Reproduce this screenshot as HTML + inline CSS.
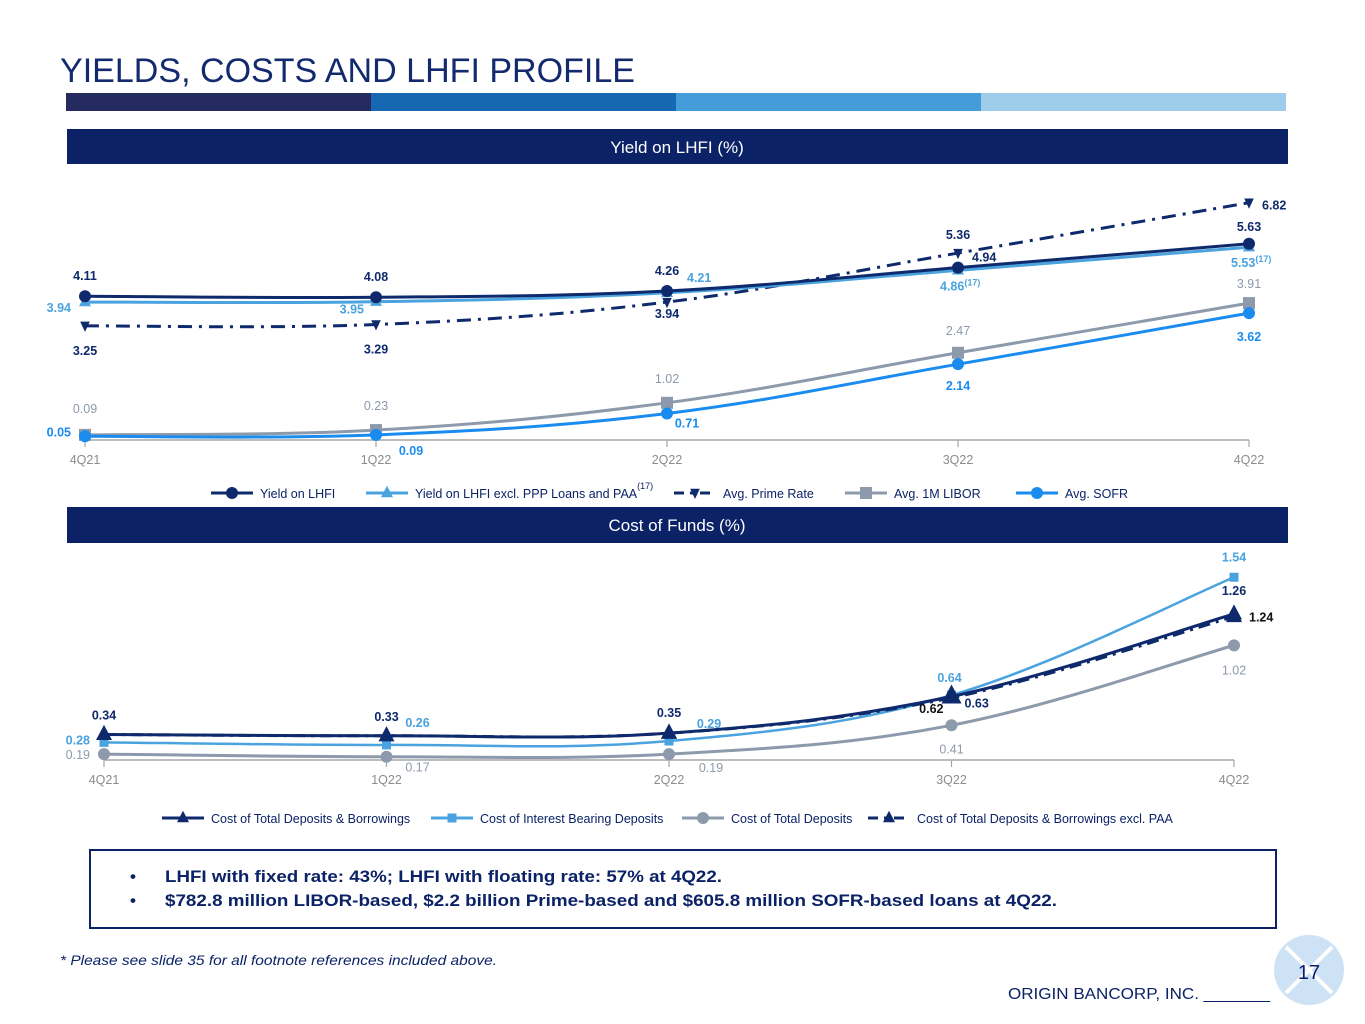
<!DOCTYPE html>
<html><head><meta charset="utf-8"><style>
body{margin:0;background:#fff;}
svg{display:block;font-family:"Liberation Sans",Arial,sans-serif;}
</style></head><body>
<svg id="s" width="1365" height="1024" viewBox="0 0 1365 1024">
<text x="60" y="82" font-size="34" fill="#142a6e" textLength="575" lengthAdjust="spacingAndGlyphs">YIELDS, COSTS AND LHFI PROFILE</text>
<rect x="66" y="93" width="305" height="18" fill="#262b5f"/>
<rect x="371" y="93" width="305" height="18" fill="#1668b2"/>
<rect x="676" y="93" width="305" height="18" fill="#449dd9"/>
<rect x="981" y="93" width="305" height="18" fill="#9ecdeb"/>
<rect x="67" y="129" width="1221" height="35" fill="#0b2266"/>
<text x="677" y="153" font-size="17" fill="#fff" text-anchor="middle">Yield on LHFI (%)</text>
<rect x="67" y="507" width="1221" height="36" fill="#0b2266"/>
<text x="677" y="531" font-size="17" fill="#fff" text-anchor="middle">Cost of Funds (%)</text>
<g id="top"></g>
<g id="bot"></g>
<rect x="90" y="850" width="1186" height="78" fill="none" stroke="#0b2266" stroke-width="2"/>
<text x="130" y="882" font-size="17" font-weight="bold" fill="#0b2266">•<tspan x="165" textLength="557" lengthAdjust="spacingAndGlyphs">LHFI with fixed rate: 43%; LHFI with floating rate: 57% at 4Q22.</tspan></text>
<text x="130" y="906" font-size="17" font-weight="bold" fill="#0b2266">•<tspan x="165" textLength="892" lengthAdjust="spacingAndGlyphs">$782.8 million LIBOR-based, $2.2 billion Prime-based and $605.8 million SOFR-based loans at 4Q22.</tspan></text>
<text x="60" y="965" font-size="14" font-style="italic" fill="#0b2266" textLength="437" lengthAdjust="spacingAndGlyphs">* Please see slide 35 for all footnote references included above.</text>
<text x="1008" y="999" font-size="16" fill="#0b2266" textLength="262" lengthAdjust="spacingAndGlyphs">ORIGIN BANCORP, INC. _______</text>
<g>
<circle cx="1309" cy="970" r="35" fill="#cde2f4"/>
<line x1="1286" y1="947" x2="1332" y2="993" stroke="#fff" stroke-width="4"/>
<line x1="1332" y1="947" x2="1286" y2="993" stroke="#fff" stroke-width="4"/>
<text x="1309" y="979" font-size="20" fill="#0b2266" text-anchor="middle">17</text>
</g>
</svg>
<script>
// ---- Yield chart data ----
const topCats = ["4Q21","1Q22","2Q22","3Q22","4Q22"];
const yieldLHFI = [4.11,4.08,4.26,4.94,5.63];
const yieldExcl = [3.94,3.95,4.21,4.86,5.53];
const primeRate = [3.25,3.29,3.94,5.36,6.82];
const libor = [0.09,0.23,1.02,2.47,3.91];
const sofr = [0.05,0.09,0.71,2.14,3.62];
// ---- Cost chart data ----
const botCats = ["4Q21","1Q22","2Q22","3Q22","4Q22"];
const costTotal = [0.34,0.33,0.35,0.63,1.26];
const costIB = [0.28,0.26,0.29,0.64,1.54];
const costDep = [0.19,0.17,0.19,0.41,1.02];
const costExcl = [0.34,0.33,0.35,0.62,1.24];

const NS="http://www.w3.org/2000/svg";
function mk(parent,tag,attrs){const e=document.createElementNS(NS,tag);for(const k in attrs)e.setAttribute(k,attrs[k]);parent.appendChild(e);return e;}
function curve(pts){let d="M"+pts[0][0]+","+pts[0][1];const t=0.18;
 for(let i=0;i<pts.length-1;i++){const p0=pts[i-1]||pts[i],p1=pts[i],p2=pts[i+1],p3=pts[i+2]||p2;
 const c1=[p1[0]+(p2[0]-p0[0])*t,p1[1]+(p2[1]-p0[1])*t],c2=[p2[0]-(p3[0]-p1[0])*t,p2[1]-(p3[1]-p1[1])*t];
 d+=" C"+c1+" "+c2+" "+p2;}return d;}
function marker(g,type,x,y,col,sz){
 if(type==="circle")return mk(g,"circle",{cx:x,cy:y,r:sz,fill:col});
 if(type==="square")return mk(g,"rect",{x:x-sz,y:y-sz,width:2*sz,height:2*sz,fill:col});
 if(type==="tri")return mk(g,"polygon",{points:`${x},${y-sz*1.2} ${x-sz},${y+sz*0.7} ${x+sz},${y+sz*0.7}`,fill:col});
 if(type==="dtri")return mk(g,"polygon",{points:`${x},${y+sz} ${x-sz*0.8},${y-sz*0.7} ${x+sz*0.8},${y-sz*0.7}`,fill:col});}

function drawChart(gid,cats,x0,x1,axisY,zeroY,scale,series,legendY,legendItems){
 const g=document.getElementById(gid);
 const X=i=>x0+(x1-x0)*i/(cats.length-1), Y=v=>zeroY-v*scale;
 const ax=mk(g,"line",{x1:x0,y1:axisY,x2:x1,y2:axisY,stroke:"#a6a6a6","stroke-width":1.5});
 
 
 cats.forEach((c,i)=>{
  const tk=mk(g,"line",{x1:X(i),y1:axisY,x2:X(i),y2:axisY+7,stroke:"#a6a6a6","stroke-width":1.2});
  
  
  const t=mk(g,"text",{x:X(i),y:axisY+24,"font-size":12.5,fill:"#8c8c8c","text-anchor":"middle"});t.textContent=c;
  
  
 });
 series.forEach(s=>{
  const sg=mk(g,"g",{});
  
  
  const pts=s.vals.map((v,i)=>[X(i),Y(v)]);
  const p=mk(sg,"path",{d:curve(pts),fill:"none",stroke:s.col,"stroke-width":s.w||3});
  if(s.dash)p.setAttribute("stroke-dasharray",s.dash);
  
  
  pts.forEach((q,i)=>{if(s.skip&&s.skip.includes(i))return;const m=marker(sg,s.mk,q[0],q[1],s.col,(s.big&&s.big[i])?s.big[i]:(s.sz||6));
   
   });
  s.vals.forEach((v,i)=>{const o=s.lab[i];if(!o)return;
   const t=mk(sg,"text",{x:X(i)+o[0],y:Y(v)+o[1],"font-size":12.5,"font-weight":s.bold?"bold":"normal",fill:s.lc||s.col,"text-anchor":o[2]||"middle"});
   t.textContent=v.toFixed(2);
   if(s.sup&&s.sup[i]){const ts=mk(t,"tspan",{"font-size":9,dy:-5});ts.textContent="(17)";}
   
   });
 });
 legendItems.forEach(L=>{
  const lg=mk(g,"g",{});
  
  
  const l=mk(lg,"line",{x1:L.x,y1:legendY,x2:L.x+42,y2:legendY,stroke:L.col,"stroke-width":3});
  if(L.dash)l.setAttribute("stroke-dasharray",L.dash);
  marker(lg,L.mk,L.x+21,legendY,L.col,L.sz||6);
  const t=mk(lg,"text",{x:L.x+49,y:legendY+5,"font-size":12.5,fill:"#0b2266"});t.textContent=L.text;
  if(L.sup){const ts=mk(t,"tspan",{"font-size":9,dy:-9});ts.textContent="(17)";}
 });
}
const NAVY="#0e2a6c",LB="#4aa3df",GR="#8d9aab",SB="#1a8cf0";
drawChart("top",topCats,85,1249,440,438,34.5,[
 {name:"avg-1m-libor",vals:libor,col:GR,mk:"square",lab:[[0,-22],[0,-20],[0,-20],[0,-18],[0,-15]]},
 {name:"avg-sofr",vals:sofr,col:SB,mk:"circle",bold:true,lab:[[-14,0,"end"],[35,20],[20,14],[0,26],[0,28]]},
 {name:"avg-prime-rate",vals:primeRate,col:NAVY,mk:"dtri",dash:"14,7,3,7",bold:true,lab:[[0,29],[0,29],[0,16],[0,-14],[13,7,"start"]]},
 {name:"yield-lhfi-excl-ppp-paa",vals:yieldExcl,col:LB,mk:"tri",bold:true,sup:[0,0,0,1,1],lab:[[-14,10,"end"],[-12,12,"end"],[20,-11,"start"],[-18,20,"start"],[-18,20,"start"]]},
 {name:"yield-lhfi",vals:yieldLHFI,col:NAVY,mk:"circle",bold:true,lab:[[0,-16],[0,-16],[0,-16],[14,-6,"start"],[0,-13]]}
],493,[
 {x:211,col:NAVY,mk:"circle",text:"Yield on LHFI"},
 {x:366,col:LB,mk:"tri",text:"Yield on LHFI excl. PPP Loans and PAA",sup:true},
 {x:674,col:NAVY,mk:"dtri",dash:"10,6,4,6",text:"Avg. Prime Rate"},
 {x:845,col:GR,mk:"square",text:"Avg. 1M LIBOR"},
 {x:1016,col:SB,mk:"circle",text:"Avg. SOFR"}
]);
drawChart("bot",botCats,104,1234,760,779,131,[
 {name:"cost-total-deposits",vals:costDep,col:GR,mk:"circle",lab:[[-14,5,"end"],[31,15],[42,18],[0,28],[0,29]]},
 {name:"cost-interest-bearing-deposits",vals:costIB,col:LB,mk:"square",sz:4.5,w:2.5,bold:true,lab:[[-14,2,"end"],[31,-18],[40,-13],[-2,-13],[0,-16]]},
 {name:"cost-total-deposits-borrowings-excl-paa",vals:costExcl,col:NAVY,mk:"tri",dash:"12,6,3,6",skip:[0,1,3],sz:8,bold:true,lc:"#111",lab:[null,null,null,[-8,15,"end"],[15,5,"start"]]},
 {name:"cost-total-deposits-borrowings",vals:costTotal,col:NAVY,mk:"tri",sz:8,big:[0,0,0,10,0],bold:true,lab:[[0,-15],[0,-15],[0,-16],[13,11,"start"],[0,-19]]}
],818,[
 {x:162,col:NAVY,mk:"tri",text:"Cost of Total Deposits & Borrowings"},
 {x:431,col:LB,mk:"square",sz:4.5,text:"Cost of Interest Bearing Deposits"},
 {x:682,col:GR,mk:"circle",text:"Cost of Total Deposits"},
 {x:868,col:NAVY,mk:"tri",dash:"10,6,4,6",text:"Cost of Total Deposits & Borrowings excl. PAA"}
]);
</script>
</body></html>
